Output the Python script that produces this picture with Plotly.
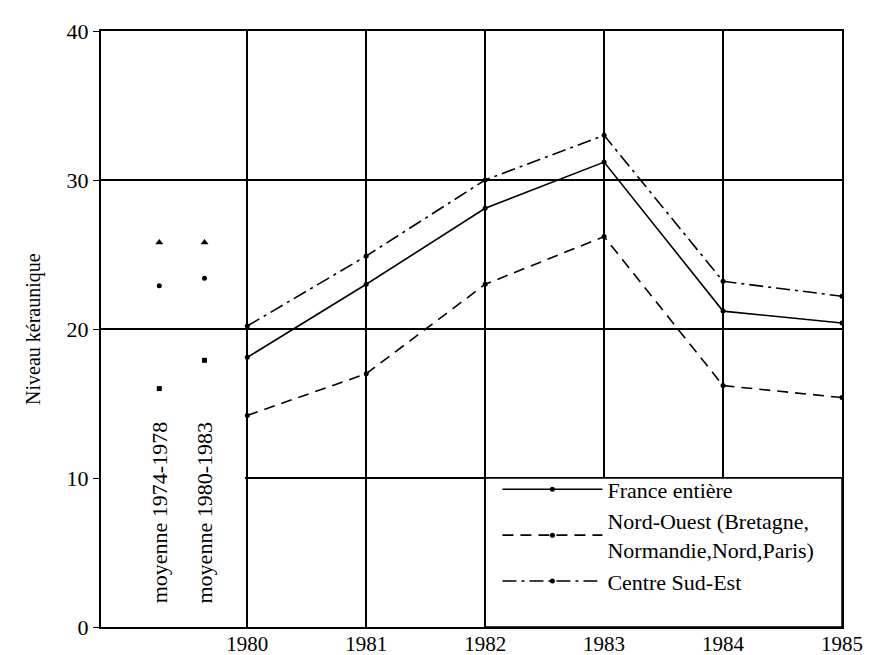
import plotly.graph_objects as go

years = [1980, 1981, 1982, 1983, 1984, 1985]
france = [18.1, 23.0, 28.1, 31.2, 21.2, 20.4]
nord_ouest = [14.2, 17.0, 23.0, 26.2, 16.2, 15.4]
centre_se = [20.2, 24.9, 30.0, 33.0, 23.2, 22.2]

periods = ["moyenne 1974-1978", "moyenne 1980-1983"]
mean_france = [22.9, 23.4]
mean_nord_ouest = [16.0, 17.9]
mean_centre_se = [25.8, 25.8]

y_ticks = [0, 10, 20, 30, 40]

FONT = "Liberation Serif"
period_x = [1979.26, 1979.64]
X_MIN = 1978.77

fig = go.Figure()

fig.add_trace(go.Scatter(
    x=years, y=france, name="France entière", mode="lines+markers",
    line=dict(color="black", width=1.6),
    marker=dict(symbol="circle", size=5, color="black")))
fig.add_trace(go.Scatter(
    x=years, y=nord_ouest, name="Nord-Ouest (Bretagne,<br>Normandie,Nord,Paris)",
    mode="lines+markers",
    line=dict(color="black", width=1.6, dash="11px,7px"),
    marker=dict(symbol="circle", size=5, color="black")))
fig.add_trace(go.Scatter(
    x=years, y=centre_se, name="Centre Sud-Est", mode="lines+markers",
    line=dict(color="black", width=1.6, dash="14px,5px,3px,5px"),
    marker=dict(symbol="circle", size=5, color="black")))

fig.add_trace(go.Scatter(x=period_x, y=mean_centre_se, mode="markers", showlegend=False,
                         marker=dict(symbol="triangle-up", size=7, color="black")))
fig.add_trace(go.Scatter(x=period_x, y=mean_france, mode="markers", showlegend=False,
                         marker=dict(symbol="circle", size=5, color="black")))
fig.add_trace(go.Scatter(x=period_x, y=mean_nord_ouest, mode="markers", showlegend=False,
                         marker=dict(symbol="square", size=5, color="black")))

for px, label in zip(period_x, periods):
    fig.add_annotation(x=px, y=7.65, text=label, textangle=-90, showarrow=False,
                       xref="x", yref="y", font=dict(family=FONT, size=22, color="black"))

fig.add_annotation(x=-0.11, y=0.5, xref="paper", yref="paper", text="Niveau kéraunique",
                   textangle=-90, showarrow=False,
                   font=dict(family=FONT, size=20, color="black"))

# hide the 10-line left of 1980 (as in the original)
fig.add_shape(type="rect", xref="x", yref="y", x0=X_MIN, x1=1979.98, y0=9.6, y1=10.4,
              fillcolor="white", line=dict(width=0), layer="between")
# legend panel (covers grid in the lower-right cell block)
fig.add_shape(type="rect", xref="x", yref="y", x0=1982, x1=1985, y0=0, y1=10,
              fillcolor="white", line=dict(color="black", width=1.5), layer="between")

fig.update_layout(
    width=872, height=655,
    margin=dict(l=101, r=30, t=31, b=28),
    paper_bgcolor="white", plot_bgcolor="white",
    font=dict(family=FONT, color="black"),
    legend=dict(x=0.535, y=0.266, xanchor="left", yanchor="top",
                bgcolor="rgba(0,0,0,0)", borderwidth=0,
                font=dict(family=FONT, size=22, color="black"),
                itemwidth=100),
)
fig.update_xaxes(range=[X_MIN, 1985], tickvals=years, ticktext=[str(y) for y in years],
                 showgrid=True, gridcolor="black", gridwidth=1.5,
                 showline=True, linecolor="black", linewidth=2, mirror=True,
                 zeroline=False, ticks="", automargin=False, ticklabelstandoff=-3,
                 tickfont=dict(family=FONT, size=21))
fig.update_yaxes(range=[0, 40], tickvals=y_ticks,
                 showgrid=True, gridcolor="black", gridwidth=1.5,
                 showline=True, linecolor="black", linewidth=2, mirror=True,
                 zeroline=False, ticks="outside", ticklen=6, tickcolor="black",
                 automargin=False, tickfont=dict(family=FONT, size=22))

fig.write_html("out.html", config={"displayModeBar": False},
               post_script="document.body.style.margin='0';")
